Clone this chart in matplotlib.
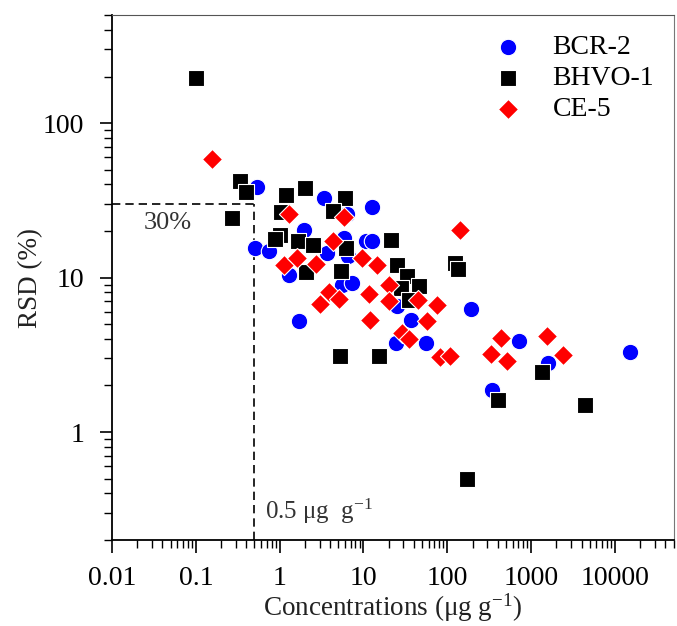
import numpy as np
import matplotlib
matplotlib.use("Agg")
from matplotlib import pyplot as plt
from matplotlib.ticker import LogLocator, NullFormatter, FixedLocator, FixedFormatter

plt.rcParams['font.family'] = ['Liberation Serif', 'DejaVu Serif']
plt.rcParams['mathtext.fontset'] = 'custom'
plt.rcParams['mathtext.rm'] = 'Liberation Serif'
plt.rcParams['mathtext.it'] = 'Liberation Serif:italic'

# concentration (ug/g) and RSD (%)
bcr_conc = [0.53, 3.4, 12.5, 6.4, 1.95, 0.505, 0.75, 5.9, 10.7, 12.8, 1.31, 5.6,
            7.2, 1.7, 3.7, 6.5, 24.3, 36.7, 55, 25, 190, 710, 341, 1600, 15300]
bcr_rsd = [38.6, 32.5, 28.5, 25.6, 20.4, 15.5, 14.9, 18.0, 17.3, 17.3, 10.4, 8.9,
           9.2, 5.2, 14.4, 13.8, 3.76, 5.3, 3.76, 6.5, 6.25, 3.9, 1.86, 2.8, 3.3]

bhvo_conc = [0.10, 0.335, 0.40, 0.27, 1.2, 2.0, 6.0, 4.3, 1.05, 1.0, 0.87, 1.65,
             2.5, 6.2, 21.2, 2.07, 5.4, 24.8, 33, 46, 27.9, 35, 125, 134,
             5.3, 15.2, 172, 405, 1340, 4430]
bhvo_rsd = [195, 42, 36, 24.3, 34.2, 38, 32.7, 26.9, 26.5, 18.9, 17.8, 17.3,
            16.2, 15.5, 17.5, 10.9, 11.1, 12.1, 10.3, 8.8, 8.6, 7.1, 12.4, 11.4,
            3.12, 3.12, 0.50, 1.62, 2.43, 1.50]

ce5_conc = [0.154, 1.31, 5.85, 4.3, 1.12, 1.62, 2.7, 9.5, 14.6, 20, 3.9, 5.1,
            3.05, 11.7, 20.4, 45, 75, 12, 57, 29, 35, 81, 108, 140, 330, 435,
            516, 1530, 2425]
ce5_rsd = [58.5, 25.8, 24.8, 17.2, 12.1, 13.4, 12.3, 13.3, 12.1, 8.9, 8.1, 7.3,
           6.7, 7.8, 7.0, 7.1, 6.6, 5.3, 5.2, 4.35, 4.0, 3.05, 3.1, 20.4, 3.18, 4.05,
           2.86, 4.2, 3.16]

xticks = [0.01, 0.1, 1, 10, 100, 1000, 10000]
xticklabels = ["0.01", "0.1", "1", "10", "100", "1000", "10000"]
yticks = [1, 10, 100]
yticklabels = ["1", "10", "100"]

fig = plt.figure(figsize=(6.77, 6.26), dpi=100)
ax = fig.add_axes([0.1654, 0.1374, 0.8296, 0.8386])

ax.scatter(bcr_conc, bcr_rsd, marker='o', s=140, c='#0000ff', edgecolors='white',
           linewidths=0.8, label='BCR-2', zorder=3)
ax.scatter(bhvo_conc, bhvo_rsd, marker='s', s=125, c='black', edgecolors='white',
           linewidths=0.8, label='BHVO-1', zorder=4)
ax.scatter(ce5_conc, ce5_rsd, marker='D', s=105, c='#ff0000', edgecolors='white',
           linewidths=0.8, label='CE-5', zorder=5)

# 30 % / 0.5 ug g-1 guides
ax.plot([0.01, 0.5], [30, 30], color='black', linestyle=(0, (5, 3)), linewidth=1.2, zorder=2)
ax.plot([0.5, 0.5], [0.2, 30], color='black', linestyle=(0, (5, 3)), linewidth=1.2, zorder=2)
ax.text(0.0236, 22.5, "30%", fontsize=19, color='#333333', ha='left', va='center')
ax.text(0.66, 0.305, r"0.5 μg  g$^{-1}$", fontsize=18, color='#333333', ha='left', va='center')

ax.set_xscale('log')
ax.set_yscale('log')
ax.set_xlim(0.01, 5e4)
ax.set_ylim(0.2, 500)

ax.xaxis.set_major_locator(FixedLocator(xticks))
ax.xaxis.set_major_formatter(FixedFormatter(xticklabels))
ax.yaxis.set_major_locator(FixedLocator(yticks))
ax.yaxis.set_major_formatter(FixedFormatter(yticklabels))
ax.xaxis.set_minor_locator(LogLocator(base=10, subs=np.arange(2, 10), numticks=20))
ax.yaxis.set_minor_locator(LogLocator(base=10, subs=np.arange(2, 10), numticks=20))
ax.xaxis.set_minor_formatter(NullFormatter())
ax.yaxis.set_minor_formatter(NullFormatter())

ax.tick_params(which='major', direction='out', length=9, width=1.2, labelsize=20,
               top=False, right=False, colors='black')
ax.tick_params(which='minor', direction='out', length=5.5, width=1.0,
               top=False, right=False)
ax.tick_params(axis='x', which='major', pad=10)
ax.tick_params(axis='y', which='major', pad=11)
for side in ['left', 'bottom']:
    ax.spines[side].set_linewidth(1.3)
ax.spines['top'].set_color('#555555')
ax.spines['right'].set_color('#777777')

ax.set_xlabel(r"Concentrations (μg g$^{-1}$)", fontsize=19.5, labelpad=0, color='#222222')
ax.set_ylabel("RSD (%)", fontsize=19.5, labelpad=0, color='#222222')

ax.legend(loc='upper right', frameon=False, fontsize=20, handletextpad=0.6,
          labelspacing=0.2, borderaxespad=0.3, markerscale=1.0)

fig.savefig("out.png", dpi=100)
